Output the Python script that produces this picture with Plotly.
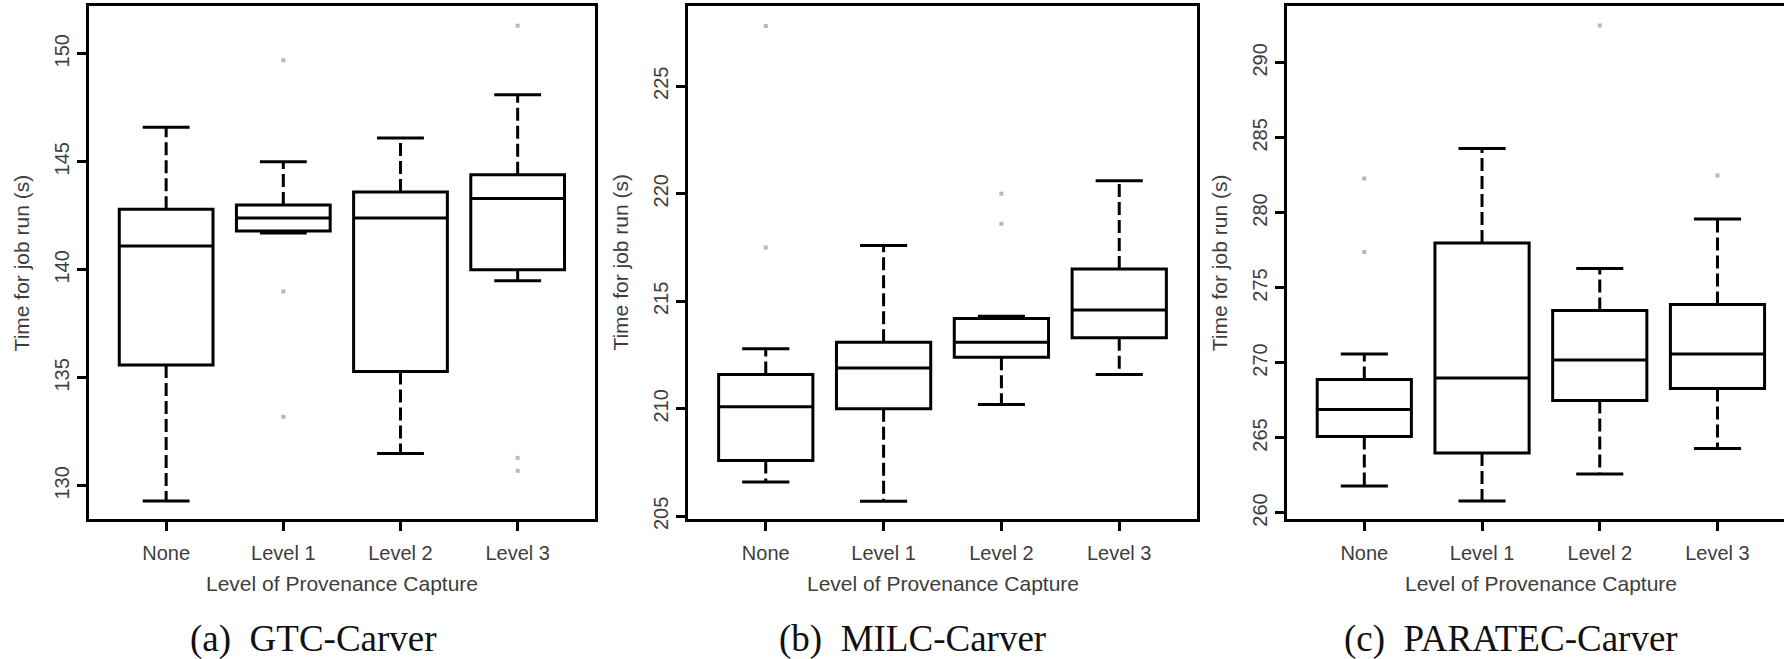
import plotly.graph_objects as go

# ---------------- data ----------------
categories = ["None", "Level 1", "Level 2", "Level 3"]
positions = [1, 2, 3, 4]

gtc_lower = [129.3, 141.7, 131.5, 139.5]
gtc_q1 = [135.6, 141.8, 135.3, 140.0]
gtc_median = [141.1, 142.4, 142.4, 143.3]
gtc_q3 = [142.8, 143.0, 143.6, 144.4]
gtc_upper = [146.6, 145.0, 146.1, 148.1]
gtc_outliers = [[], [149.7, 139.0, 133.2], [], [151.3, 131.3, 130.7]]

milc_lower = [206.6, 205.7, 210.2, 211.6]
milc_q1 = [207.6, 210.0, 212.4, 213.3]
milc_median = [210.1, 211.9, 213.1, 214.6]
milc_q3 = [211.6, 213.1, 214.2, 216.5]
milc_upper = [212.8, 217.6, 214.3, 220.6]
milc_outliers = [[227.8, 217.5], [], [220.0, 218.6], []]

paratec_lower = [261.8, 260.8, 262.6, 264.3]
paratec_q1 = [265.1, 264.0, 267.5, 268.3]
paratec_median = [266.9, 269.0, 270.2, 270.6]
paratec_q3 = [268.9, 278.0, 273.5, 273.9]
paratec_upper = [270.6, 284.3, 276.3, 279.6]
paratec_outliers = [[282.3, 277.4], [], [292.5], [282.5]]

gtc_ticks = [130, 135, 140, 145, 150]
milc_ticks = [205, 210, 215, 220, 225]
paratec_ticks = [260, 265, 270, 275, 280, 285, 290]

captions = ["(a)\u2002GTC-Carver", "(b)\u2002MILC-Carver", "(c)\u2002PARATEC-Carver"]
y_title = "Time for job run (s)"
x_title = "Level of Provenance Capture"

# ---------------- style ----------------
W, H = 1784, 659
BOX_W = 0.8
CAP_HALF = 0.2
LW = 3
TXT = "#3d3d3d"
SANS = "Liberation Sans, Arial, sans-serif"
SERIF = "Liberation Serif, Times New Roman, serif"

panels = [
    dict(lower=gtc_lower, q1=gtc_q1, med=gtc_median, q3=gtc_q3, upper=gtc_upper,
         out=gtc_outliers, ticks=gtc_ticks, yrange=[128.47, 152.2], xrange=[0.34, 4.66],
         xdom=[88.8, 595.0], mirror_y=True, cap_x=313),
    dict(lower=milc_lower, q1=milc_q1, med=milc_median, q3=milc_q3, upper=milc_upper,
         out=milc_outliers, ticks=milc_ticks, yrange=[204.88, 228.72], xrange=[0.34, 4.66],
         xdom=[688.0, 1197.0], mirror_y=True, cap_x=913),
    dict(lower=paratec_lower, q1=paratec_q1, med=paratec_median, q3=paratec_q3, upper=paratec_upper,
         out=paratec_outliers, ticks=paratec_ticks, yrange=[259.6, 293.78], xrange=[0.34, 4.565],
         xdom=[1286.6, 1784.0], mirror_y=False, cap_x=1511),
]

ydom = [(H - 527.8) / H, (H - 6.3) / H]

fig = go.Figure()
annotations = []
layout = {}

for i, p in enumerate(panels):
    sfx = "" if i == 0 else str(i + 1)
    xa, ya = "x" + sfx, "y" + sfx

    # boxes (quartiles + median)
    for k, pos in enumerate(positions):
        fig.add_trace(go.Box(
            x=[pos], q1=[p["q1"][k]], median=[p["med"][k]], q3=[p["q3"][k]],
            lowerfence=[p["q1"][k]], upperfence=[p["q3"][k]],
            width=BOX_W, whiskerwidth=0, fillcolor="white",
            line=dict(color="black", width=LW), boxpoints=False,
            xaxis=xa, yaxis=ya, showlegend=False, hoverinfo="skip"))

    # dashed whiskers
    wx, wy = [], []
    for k, pos in enumerate(positions):
        wx += [pos, pos, None, pos, pos, None]
        wy += [p["q3"][k], p["upper"][k], None, p["q1"][k], p["lower"][k], None]
    fig.add_trace(go.Scatter(x=wx, y=wy, mode="lines", xaxis=xa, yaxis=ya,
                             line=dict(color="black", width=LW, dash="13px,5px"),
                             showlegend=False, hoverinfo="skip"))
    # staples
    cx, cy = [], []
    for k, pos in enumerate(positions):
        for v in (p["upper"][k], p["lower"][k]):
            cx += [pos - CAP_HALF, pos + CAP_HALF, None]
            cy += [v, v, None]
    fig.add_trace(go.Scatter(x=cx, y=cy, mode="lines", xaxis=xa, yaxis=ya,
                             line=dict(color="black", width=LW),
                             showlegend=False, hoverinfo="skip"))
    # outliers
    ox, oy = [], []
    for k, pos in enumerate(positions):
        for v in p["out"][k]:
            ox.append(pos)
            oy.append(v)
    fig.add_trace(go.Scatter(x=ox, y=oy, mode="markers", xaxis=xa, yaxis=ya,
                             marker=dict(symbol="square", size=4, color="#b8b8b8"),
                             showlegend=False, hoverinfo="skip"))

    layout["xaxis" + sfx] = dict(
        domain=[p["xdom"][0] / W, p["xdom"][1] / W], anchor=ya, range=p["xrange"],
        tickvals=positions, ticktext=categories, ticks="outside", ticklen=9, tickwidth=LW,
        tickcolor="black", showline=True, linecolor="black", linewidth=LW, mirror=True,
        showgrid=False, zeroline=False, ticklabelstandoff=5,
        tickfont=dict(family=SANS, size=20, color=TXT))
    layout["yaxis" + sfx] = dict(
        domain=ydom, anchor=xa, range=p["yrange"], tickvals=p["ticks"],
        ticks="outside", ticklen=9, tickwidth=LW, tickcolor="black",
        showline=True, linecolor="black", linewidth=LW, mirror=p["mirror_y"],
        showgrid=False, zeroline=False, tickangle=-90,
        tickfont=dict(family=SANS, size=20, color=TXT))

    annotations.append(dict(text=y_title, xref=xa + " domain", yref=ya + " domain",
                            x=0, y=0.5, xshift=-67, textangle=-90, showarrow=False,
                            xanchor="center", yanchor="middle",
                            font=dict(family=SANS, size=21, color=TXT)))
    annotations.append(dict(text=x_title, xref=xa, yref=ya + " domain",
                            x=2.5, y=0, yshift=-65, showarrow=False,
                            xanchor="center", yanchor="middle",
                            font=dict(family=SANS, size=21, color=TXT)))
    annotations.append(dict(text=captions[i], xref="paper", yref="paper",
                            x=p["cap_x"] / W, y=(H - 650) / H, showarrow=False,
                            xanchor="center", yanchor="middle",
                            font=dict(family=SERIF, size=37, color="#111111")))

fig.update_layout(
    width=W, height=H, margin=dict(l=0, r=0, t=0, b=0),
    paper_bgcolor="white", plot_bgcolor="white", boxmode="overlay",
    showlegend=False, annotations=annotations, **layout)

fig.write_html("out.html", config={"displayModeBar": False})
